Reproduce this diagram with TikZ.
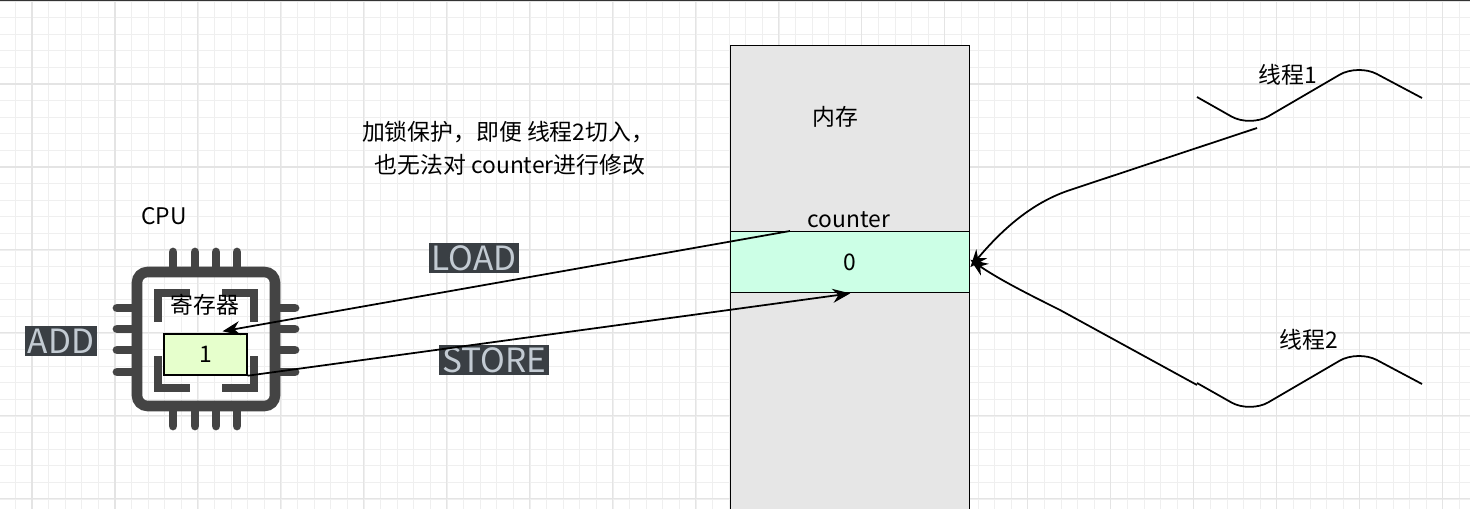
\documentclass[tikz,border=0pt]{standalone}
\usepackage{fontspec}
\setmainfont{Noto Sans CJK SC}
\usetikzlibrary{arrows.meta,positioning}
\definecolor{gridc}{HTML}{E4E4E4}
\definecolor{memgray}{HTML}{E6E6E6}
\definecolor{cellgreen}{HTML}{CCFFE6}
\definecolor{reggreen}{HTML}{E6FFCC}
\definecolor{chipgray}{HTML}{444444}
\definecolor{tagbg}{HTML}{3A3F44}
\definecolor{tagfg}{HTML}{C3CBD3}

\begin{document}
\begin{tikzpicture}[x=0.02cm,y=-0.02cm,>={Stealth[length=10pt,width=8pt]}, thick]
  \tikzset{
    txt/.style={font=\fontsize{13}{15}\selectfont, inner sep=0pt},
    tag/.style={fill=tagbg, text=tagfg, font=\fontsize{19}{20}\selectfont, inner sep=1.5pt},
    pin/.style={draw=chipgray, line width=5pt, line cap=round},
    wave/.style={draw, line width=1pt, rounded corners=12pt},
    link/.style={->, line width=1pt}
  }
  \useasboundingbox (0,0) rectangle (1470,508);
  % background grid
  \draw[gridc!60, line width=0.4pt, xshift=0.64cm, yshift=-0.02cm] (-100,-100) grid[step=0.332cm] (1600,600);
  \draw[gridc, line width=0.6pt, xshift=0.64cm, yshift=-0.02cm] (-100,-100) grid[step=1.66cm] (1600,600);
  \draw[black!80, line width=1pt] (0,0.5) -- (1470,0.5);

  % memory
  \node[draw, fill=memgray, minimum width=4.78cm, minimum height=9.4cm, anchor=north west, inner sep=0pt] (mem) at (730,45) {};
  \node[draw, fill=cellgreen, minimum width=4.78cm, minimum height=1.22cm, anchor=north west, inner sep=0pt, txt] (cell) at (730,231) {0};
  \node[txt] (memlbl) at (835,117) {内存};
  \node[txt] (cntlbl) at (849,220) {counter};

  % cpu chip
  \draw[chipgray, line width=6pt, rounded corners=6pt] (137,272) rectangle (275,406);
  \foreach \p in {173,195,216,237} {
    \draw[pin] (\p,252) -- (\p,268);
    \draw[pin] (\p,410) -- (\p,426);
  }
  \foreach \p in {308,329,350,372} {
    \draw[pin] (117,\p) -- (133,\p);
    \draw[pin] (279,\p) -- (295,\p);
  }
  \draw[chipgray, line width=5pt] (158,322) -- (158,293) -- (190,293);
  \draw[chipgray, line width=5pt] (222,293) -- (254,293) -- (254,322);
  \draw[chipgray, line width=5pt] (158,356) -- (158,388) -- (190,388);
  \draw[chipgray, line width=5pt] (222,388) -- (254,388) -- (254,356);
  \node[draw, fill=reggreen, minimum width=1.66cm, minimum height=0.82cm, inner sep=0pt, txt] (reg) at (205.5,354.5) {1};
  \node[txt] (reglbl) at (205,305) {寄存器};
  \node[txt] (cpulbl) at (164,216) {CPU};

  % tags
  \node[tag] (add) at (61,341) {ADD};
  \node[tag] (load) at (474,258) {LOAD};
  \node[tag] (store) at (494,360) {STORE};
  \node[txt, align=center] (note) at (508,148) {加锁保护，即便 线程2切入，\\[4pt]\,也无法对 counter进行修改};

  % threads
  \draw[wave] (1197,97) -- (1250,127) -- (1358,64) -- (1422,98);
  \draw[wave] (1197,383) -- (1250,413) -- (1358,350) -- (1422,384);
  \node[txt] (t1) at (1288,75) {线程1};
  \node[txt] (t2) at (1309,340) {线程2};
  \coordinate (t1end) at (1257,128);
  \coordinate (t2end) at (1197,385);

  % connectors
  \draw[link] ([xshift=1.2cm]cell.north west) -- ([xshift=0.34cm,yshift=0.04cm]reg.north);
  \draw[link] (reg.south east) -- (cell.south);
  \draw[link] (t1end) -- (1070,190) .. controls (1040,200) and (1010,220) .. ([yshift=-0.1cm]cell.east);
  \draw[link] (t2end) -- (1060,310) .. controls (1030,295) and (1000,280) .. ([yshift=0.05cm]cell.east);
\end{tikzpicture}
\end{document}
